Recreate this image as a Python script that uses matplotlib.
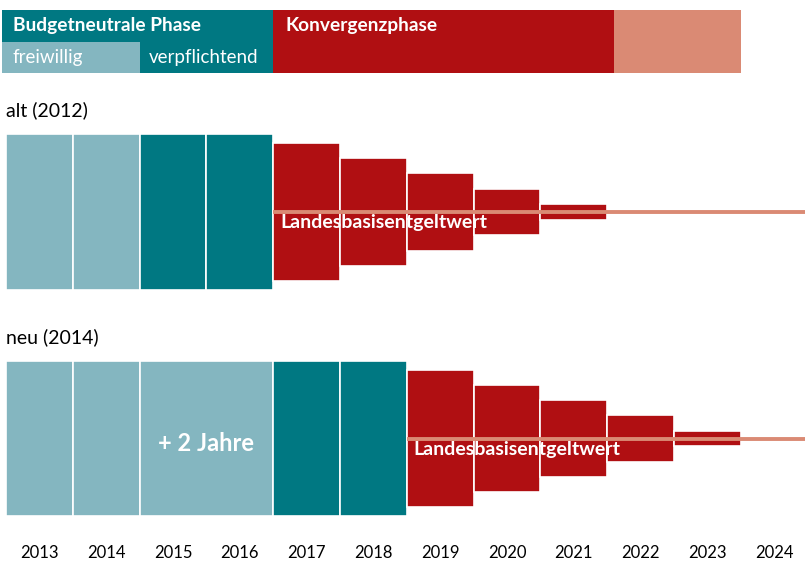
import matplotlib.pyplot as plt

plt.rcParams['font.family'] = ['Lato', 'DejaVu Sans']

# colours
LIGHT = '#84B6C0'
TEAL = '#007882'
RED = '#B00F12'
SALMON = '#DA8A74'

years = list(range(2013, 2025))

# alt (2012): budget-neutral years, then convergence steps
alt_free = [2013, 2014]
alt_mand = [2015, 2016]
alt_conv_years = [2017, 2018, 2019, 2020, 2021]
alt_conv_height = [89, 69, 50, 30, 10]

# neu (2014): freiwillig extended by two years
neu_free = [2013, 2014, 2015]
neu_free_len = [1, 1, 2]
neu_mand = [2017, 2018]
neu_conv_years = [2019, 2020, 2021, 2022, 2023]
neu_conv_height = [89, 69, 50, 30, 10]

base_level = 50  # Landesbasisentgeltwert

W, H = 805, 564
fig = plt.figure(figsize=(W / 100, H / 100), dpi=100)

px_per_year = 66.8
x0 = 2012.5 - 6 / px_per_year
x1 = x0 + W / px_per_year


def add_ax(top, bottom):
    ax = fig.add_axes([0, 1 - bottom / H, 1, (bottom - top) / H])
    ax.set_xlim(x0, x1)
    ax.axis('off')
    return ax


# header
hx = add_ax(10, 73)
hx.set_ylim(0, 2)
hx.barh(0, 2016.5 - 2012.44, left=2012.44, height=2, align='edge', color=TEAL, lw=0)
hx.barh(0, 2014.5 - 2012.44, left=2012.44, height=0.98, align='edge', color=LIGHT, lw=0)
hx.barh(0, 2021.6 - 2016.5, left=2016.5, height=2, align='edge', color=RED, lw=0)
hx.barh(0, 2023.5 - 2021.6, left=2021.6, height=2, align='edge', color=SALMON, lw=0)
hx.set_xlim(x0, x1)
hx.set_ylim(0, 2)
hx.text(2012.6, 1.52, 'Budgetneutrale Phase', color='white', fontsize=13.8,
        fontweight='bold', va='center')
hx.text(2016.69, 1.52, 'Konvergenzphase', color='white', fontsize=13.8,
        fontweight='bold', va='center')
hx.text(2012.6, 0.5, 'freiwillig', color='white', fontsize=13.5, va='center')
hx.text(2014.63, 0.5, 'verpflichtend', color='white', fontsize=13.5, va='center')


def panel(top, bottom, title, free, free_len, mand, conv_years, conv_h):
    ax = add_ax(top, bottom)
    ax.set_ylim(0, 100)
    ax.bar(free, 100, width=free_len, align='edge', color=LIGHT,
           edgecolor='white', lw=1.2)
    ax.bar(mand, 100, width=1, align='edge', color=TEAL,
           edgecolor='white', lw=1.2)
    bottoms = [base_level - h / 2 for h in conv_h]
    ax.bar([y - 0.5 for y in conv_years], conv_h, bottom=bottoms, width=1,
           align='edge', color=RED, edgecolor='white', lw=1.2)
    start = conv_years[0] - 0.5
    ax.plot([start, x1], [base_level, base_level], color=SALMON, lw=2.8,
            solid_capstyle='butt')
    ax.text(start + 0.1, base_level - 7, 'Landesbasisentgeltwert',
            color='white', fontsize=14, fontweight='bold', va='center')
    fig.text(6 / W, 1 - (top - 24) / H, title, fontsize=14, va='center')
    return ax


# bars are drawn from their left edge (year - 0.5)
alt_ax = panel(134, 290, 'alt (2012)', [y - 0.5 for y in alt_free], [1, 1],
               [y - 0.5 for y in alt_mand], alt_conv_years, alt_conv_height)
neu_ax = panel(361, 516, 'neu (2014)', [y - 0.5 for y in neu_free], neu_free_len,
               [y - 0.5 for y in neu_mand], neu_conv_years, neu_conv_height)
neu_ax.text(2015.5, 47, '+ 2 Jahre', color='white', fontsize=17,
            fontweight='bold', ha='center', va='center')

# year axis
yx = add_ax(540, 564)
yx.set_ylim(0, 1)
for y in years:
    yx.text(y, 0.45, str(y), ha='center', va='center', fontsize=12)

fig.savefig('out.png', dpi=100)
